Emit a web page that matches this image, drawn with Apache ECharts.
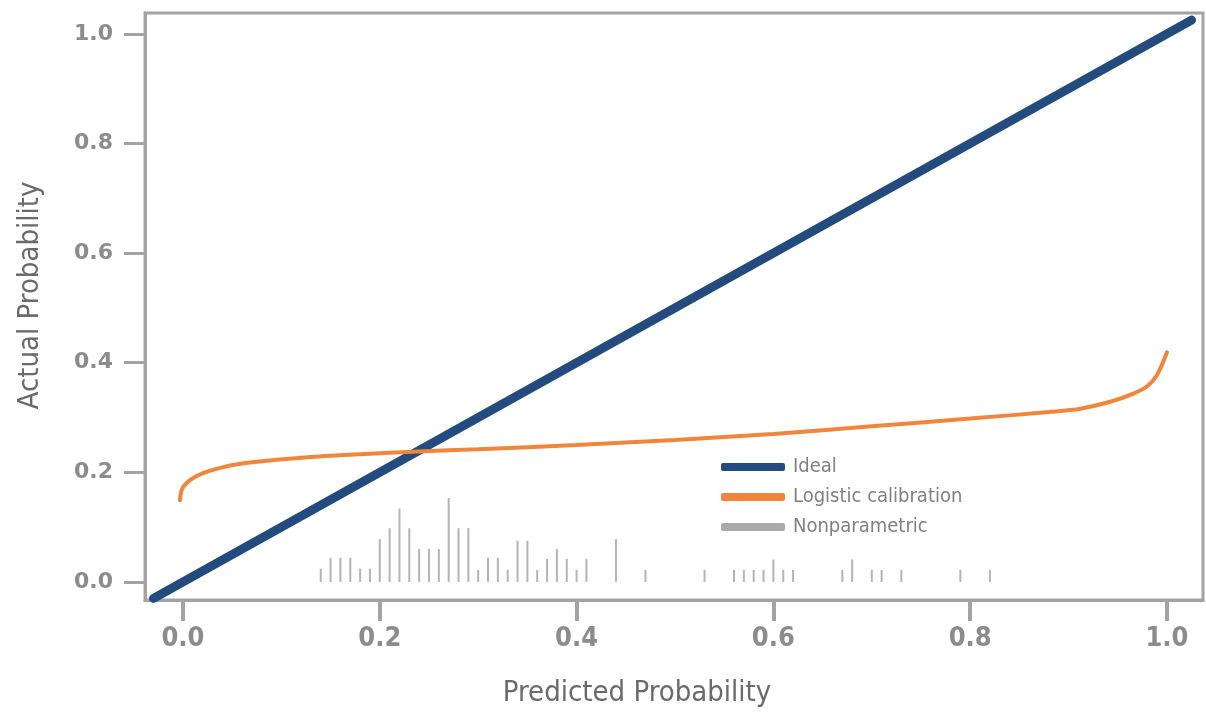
<!DOCTYPE html>
<html>
<head>
<meta charset="utf-8">
<title>Calibration plot</title>
<script src="https://cdn.jsdelivr.net/npm/echarts@6/dist/echarts.min.js"></script>
<style>
  html, body { margin: 0; padding: 0; background: #ffffff; }
  #chart { width: 1206px; height: 713px; }
</style>
</head>
<body>
<div id="chart"></div>
<script>
// Tick values shown on both axes
const tickValues = [0, 0.2, 0.4, 0.6, 0.8, 1.0];

// Ideal calibration: the diagonal, spanning the visible range
const idealLine = [[-0.03, -0.03], [1.025, 1.025]];

// Logistic calibration curve (predicted, actual)
const logisticX = [-0.003, -0.0027, -0.002, -0.001, 0.001, 0.004, 0.009, 0.016, 0.026, 0.04, 0.06, 0.09, 0.13, 0.18, 0.24, 0.3, 0.4, 0.5, 0.6, 0.7, 0.8, 0.88, 0.912, 0.945, 0.965, 0.98, 0.99, 1.0];
const logisticY = [0.149, 0.156, 0.163, 0.169, 0.175, 0.181, 0.188, 0.195, 0.202, 0.209, 0.216, 0.222, 0.228, 0.233, 0.238, 0.242, 0.25, 0.259, 0.27, 0.284, 0.298, 0.31, 0.316, 0.33, 0.343, 0.357, 0.378, 0.419];

// Distribution of predicted probabilities (rug spikes)
const spikeX = [0.14, 0.15, 0.16, 0.17, 0.18, 0.19, 0.20, 0.21, 0.22, 0.23, 0.24, 0.25, 0.26, 0.27, 0.28, 0.29, 0.30, 0.31, 0.32, 0.33, 0.34, 0.35, 0.36, 0.37, 0.38, 0.39, 0.40, 0.41, 0.44, 0.47, 0.53, 0.56, 0.57, 0.58, 0.59, 0.60, 0.61, 0.62, 0.67, 0.68, 0.70, 0.71, 0.73, 0.79, 0.82];
const spikeH = [0.024, 0.044, 0.044, 0.044, 0.024, 0.024, 0.078, 0.098, 0.134, 0.098, 0.060, 0.060, 0.060, 0.153, 0.098, 0.098, 0.022, 0.044, 0.044, 0.022, 0.075, 0.075, 0.022, 0.042, 0.060, 0.042, 0.022, 0.042, 0.078, 0.022, 0.022, 0.022, 0.022, 0.022, 0.022, 0.041, 0.022, 0.022, 0.022, 0.041, 0.022, 0.022, 0.022, 0.022, 0.022];

const logisticData = logisticX.map((x, i) => [x, logisticY[i]]);
const spikeData = spikeX.map((x, i) => [x, spikeH[i]]);

const navy = '#244b7d';
const orange = '#ef863c';
const grey = '#aaaaaa';
const spikeGrey = '#b4b4b4';
const frame = '#a3a3a3';
const narrow = "'DejaVu Sans Condensed', 'DejaVu Sans', sans-serif";

const chart = echarts.init(document.getElementById('chart'), null, { renderer: 'canvas' });

// Each spike is a thin vertical segment from zero up to its height
function renderSpike(params, api) {
  const base = api.coord([api.value(0), 0]);
  const top = api.coord([api.value(0), api.value(1)]);
  return {
    type: 'line',
    shape: { x1: base[0], y1: base[1], x2: top[0], y2: top[1] },
    style: { stroke: spikeGrey, lineWidth: 2 }
  };
}

chart.setOption({
  animation: false,
  backgroundColor: '#ffffff',
  grid: {
    left: 145, right: 3, top: 13, bottom: 112,
    show: true, borderColor: frame, borderWidth: 3, backgroundColor: 'transparent'
  },
  legend: {
    orient: 'vertical',
    left: 716, top: 452,
    itemWidth: 64, itemHeight: 8, itemGap: 10,
    icon: 'roundRect',
    textStyle: { fontFamily: narrow, fontSize: 20, color: '#808080', lineHeight: 20, padding: [0, 0, 0, 3] },
    data: ['Ideal', 'Logistic calibration', 'Nonparametric']
  },
  xAxis: {
    type: 'value',
    min: -0.0386, max: 1.0366,
    name: 'Predicted Probability',
    nameLocation: 'middle', nameGap: 79,
    nameTextStyle: { fontFamily: narrow, fontSize: 29, color: '#6a6a6a', padding: [0, 74, 0, 0] },
    axisLine: { show: true, onZero: false, lineStyle: { color: frame, width: 3 } },
    splitLine: { show: false },
    axisTick: { show: true, length: 21, customValues: tickValues, lineStyle: { color: frame, width: 4 } },
    axisLabel: {
      customValues: tickValues, margin: 25,
      fontFamily: narrow, fontWeight: 'bold', fontSize: 27, color: '#8c8c8c',
      formatter: v => v.toFixed(1)
    }
  },
  yAxis: {
    type: 'value',
    min: -0.033, max: 1.038,
    name: 'Actual Probability',
    nameLocation: 'middle', nameGap: 100, nameRotate: 90,
    nameTextStyle: { fontFamily: narrow, fontSize: 29, color: '#6a6a6a', padding: [0, 0, 0, 22] },
    axisLine: { show: true, onZero: false, lineStyle: { color: frame, width: 3 } },
    splitLine: { show: false },
    axisTick: { show: true, length: 21, customValues: tickValues, lineStyle: { color: frame, width: 3 } },
    axisLabel: {
      customValues: tickValues, margin: 32,
      fontFamily: 'DejaVu Sans', fontWeight: 'bold', fontSize: 22, color: '#8c8c8c',
      formatter: v => v.toFixed(1)
    }
  },
  series: [
    {
      name: 'Ideal',
      type: 'line',
      data: idealLine,
      symbol: 'none',
      color: navy,
      lineStyle: { color: navy, width: 9, cap: 'round' },
      z: 2
    },
    {
      name: 'Logistic calibration',
      type: 'line',
      data: logisticData,
      symbol: 'none',
      smooth: 0.3,
      color: orange,
      lineStyle: { color: orange, width: 4, cap: 'round' },
      z: 3
    },
    {
      name: 'Nonparametric',
      type: 'custom',
      data: spikeData,
      renderItem: renderSpike,
      color: grey,
      itemStyle: { color: grey },
      encode: { x: 0, y: 1 },
      z: 1
    }
  ]
});
</script>
</body>
</html>
